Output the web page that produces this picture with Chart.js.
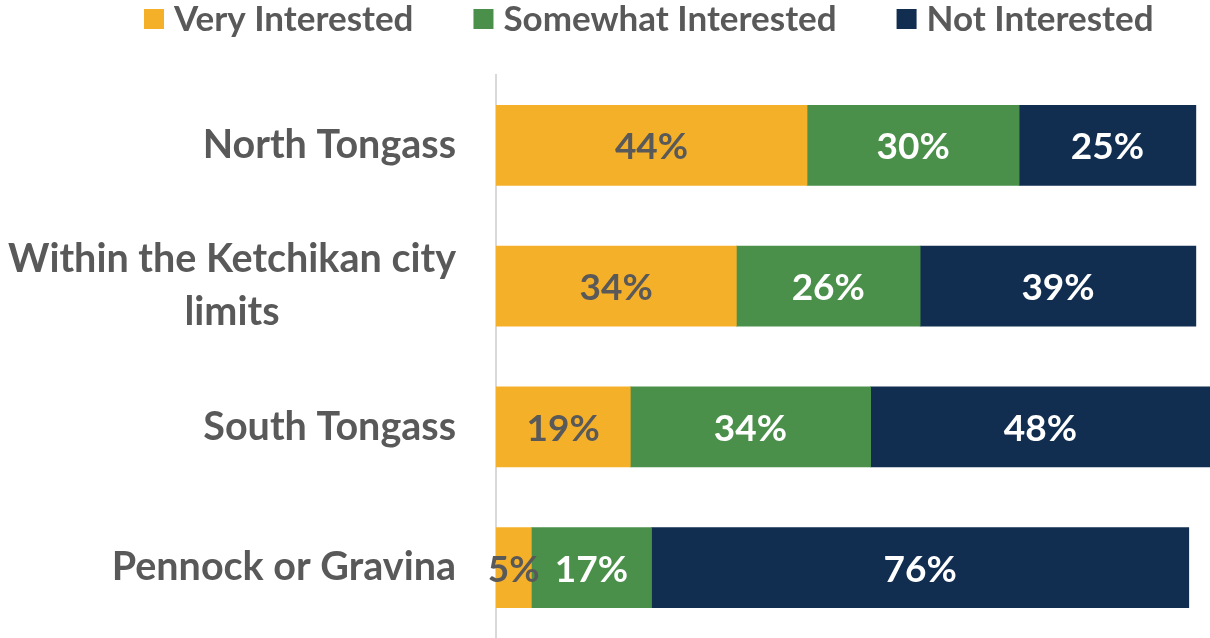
<!DOCTYPE html>
<html><head><meta charset="utf-8">
<script src="https://cdn.jsdelivr.net/npm/chart.js@4"></script>
<style>html,body{margin:0;padding:0;background:#fff}#wrap{width:1210px;height:638px}</style>
</head><body><div id="wrap"><canvas id="c" width="1210" height="638"></canvas></div>
<script>
const categories = [["North Tongass"], ["Within the Ketchikan city", "limits"], ["South Tongass"], ["Pennock or Gravina"]];
const seriesNames = ["Very Interested", "Somewhat Interested", "Not Interested"];
const veryInterested = [44, 34, 19, 5];
const somewhatInterested = [30, 26, 34, 17];
const notInterested = [25, 39, 48, 76];
const colors = ["#F5B02A", "#4A8F4A", "#112D50"];
const labelColors = ["#595959", "#FFFFFF", "#FFFFFF"];
const FONT = "Lato, 'Open Sans', sans-serif";

const labelPlugin = {
  id: 'labels',
  afterDatasetsDraw(chart) {
    const ctx = chart.ctx;
    ctx.save();
    ctx.font = "bold 37px " + FONT;
    ctx.textAlign = 'center';
    ctx.textBaseline = 'middle';
    chart.data.datasets.forEach((ds, di) => {
      const meta = chart.getDatasetMeta(di);
      meta.data.forEach((el, i) => {
        const cx = (el.x + el.base) / 2;
        ctx.fillStyle = labelColors[di];
        ctx.fillText(ds.data[i] + '%', cx, el.y + 2);
      });
    });
    // category labels
    const ys = chart.scales.y;
    const right = chart.chartArea.left - 40;
    ctx.font = "bold 39.5px " + FONT;
    ctx.fillStyle = '#595959';
    categories.forEach((lines, i) => {
      const cy = ys.getPixelForValue(i);
      const w = Math.max(...lines.map(l => ctx.measureText(l).width));
      const cx = right - w / 2;
      const lh = 53;
      lines.forEach((l, k) => {
        ctx.fillText(l, cx, cy + (k - (lines.length - 1) / 2) * lh);
      });
    });
    // legend
    ctx.font = "bold 35px " + FONT;
    ctx.textAlign = 'left';
    let x = 144;
    const box = 20, gapText = 10, gapItem = 60, ly = 19;
    seriesNames.forEach((name, i) => {
      ctx.fillStyle = colors[i];
      ctx.fillRect(x, ly - box / 2, box, box);
      x += box + gapText;
      ctx.fillStyle = '#595959';
      ctx.fillText(name, x, ly + 1);
      x += ctx.measureText(name).width + gapItem;
    });
    ctx.restore();
  }
};

new Chart(document.getElementById('c'), {
  type: 'bar',
  data: {
    labels: categories.map(c => c.join(' ')),
    datasets: [
      { label: seriesNames[0], data: veryInterested, backgroundColor: colors[0] },
      { label: seriesNames[1], data: somewhatInterested, backgroundColor: colors[1] },
      { label: seriesNames[2], data: notInterested, backgroundColor: colors[2] }
    ]
  },
  options: {
    indexAxis: 'y',
    responsive: false,
    animation: false,
    maintainAspectRatio: false,
    barThickness: 80,
    layout: { padding: { left: 488, right: 0, top: 75, bottom: 0 } },
    scales: {
      x: { stacked: true, display: false, min: 0, max: 101 },
      y: { stacked: true, ticks: { display: false }, grid: { display: false },
           border: { display: true, color: '#D9D9D9', width: 2 } }
    },
    plugins: {
      tooltip: { enabled: false },
      legend: { display: false }
    }
  },
  plugins: [labelPlugin]
});
</script></body></html>
